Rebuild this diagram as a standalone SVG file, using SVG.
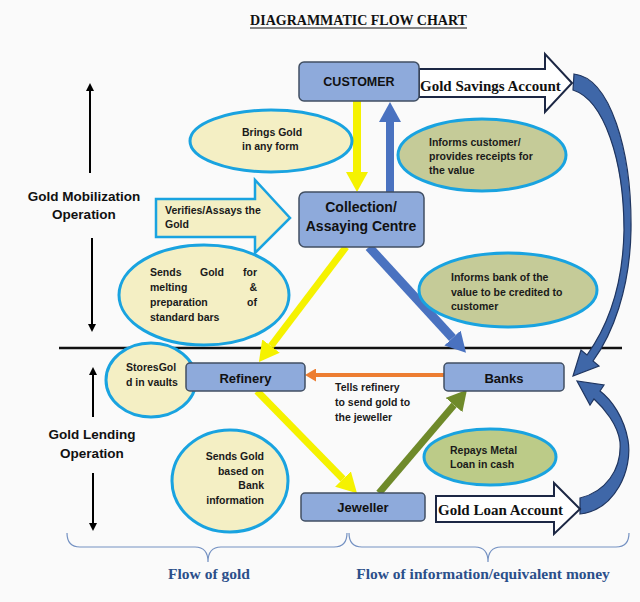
<svg xmlns="http://www.w3.org/2000/svg" width="640" height="602" viewBox="0 0 640 602">
<style>
.box{fill:#8eaadb;stroke:#414f63;stroke-width:1.5}
.bt{font-family:"Liberation Sans",Arial,sans-serif;font-weight:bold;fill:#111;text-anchor:middle}
.ell{stroke:#19a3e0;stroke-width:3}
.ly{fill:#f4efc4}
.lo{fill:#c5cb98}
.et{font-family:"Liberation Sans",Arial,sans-serif;font-weight:bold;font-size:10.5px;fill:#1a1a1a}
.lab{font-family:"Liberation Sans",Arial,sans-serif;font-weight:bold;font-size:13.5px;fill:#111;text-anchor:middle}
.ser{font-family:"Liberation Serif","Times New Roman",serif;font-weight:bold}
.acct{fill:#fff;stroke:#1c2744;stroke-width:2}
.brace{fill:none;stroke:#7491c2;stroke-width:1.2}
.curve{fill:#3f67a8;stroke:#1f3560;stroke-width:1.2}
</style>
<defs>
<marker id="hY" markerUnits="userSpaceOnUse" markerWidth="20" markerHeight="22" viewBox="0 0 20 22" refX="0" refY="11" orient="auto"><path d="M0,0L20,11L0,22Z" fill="#f5f200"/></marker>
<marker id="hB" markerUnits="userSpaceOnUse" markerWidth="20" markerHeight="22" viewBox="0 0 20 22" refX="0" refY="11" orient="auto"><path d="M0,0L20,11L0,22Z" fill="#4a72c0"/></marker>
<marker id="hG" markerUnits="userSpaceOnUse" markerWidth="20" markerHeight="22" viewBox="0 0 20 22" refX="0" refY="11" orient="auto"><path d="M0,0L20,11L0,22Z" fill="#6f8a2a"/></marker>
<marker id="hO" markerUnits="userSpaceOnUse" markerWidth="11" markerHeight="13" viewBox="0 0 11 13" refX="0" refY="6.5" orient="auto"><path d="M0,0L11,6.5L0,13Z" fill="#ed7d31"/></marker>
<marker id="hK" markerUnits="userSpaceOnUse" markerWidth="8" markerHeight="8" viewBox="0 0 8 8" refX="0" refY="4" orient="auto"><path d="M0,0L8,4L0,8Z" fill="#000"/></marker>
</defs>
<rect width="640" height="602" fill="#fafafa"/>

<g id="title">
<text class="ser" x="358.5" y="25" font-size="14" text-anchor="middle" fill="#111">DIAGRAMMATIC FLOW CHART</text>
<line x1="250" y1="28" x2="467" y2="28" stroke="#111" stroke-width="1"/>
</g>

<g id="side-labels">
<line x1="90" y1="173" x2="90" y2="91" stroke="#000" stroke-width="2" marker-end="url(#hK)"/>
<line x1="92" y1="238" x2="92" y2="324" stroke="#000" stroke-width="2" marker-end="url(#hK)"/>
<text class="lab" x="84" y="201">Gold Mobilization</text>
<text class="lab" x="84" y="219">Operation</text>
<line x1="93" y1="417" x2="93" y2="375" stroke="#000" stroke-width="2" marker-end="url(#hK)"/>
<line x1="93" y1="473" x2="93" y2="523" stroke="#000" stroke-width="2" marker-end="url(#hK)"/>
<text class="lab" x="92" y="439">Gold Lending</text>
<text class="lab" x="92" y="458">Operation</text>
<line x1="59" y1="348" x2="622" y2="348" stroke="#111" stroke-width="2.5"/>
</g>

<g id="connectors">
<line x1="357" y1="101" x2="357" y2="172" stroke="#f5f200" stroke-width="8" marker-end="url(#hY)"/>
<line x1="390" y1="192" x2="390" y2="122" stroke="#4a72c0" stroke-width="8" marker-end="url(#hB)"/>
<line x1="346" y1="247" x2="271" y2="346" stroke="#f5f200" stroke-width="7" marker-end="url(#hY)"/>
<line x1="369" y1="247" x2="452.5" y2="338" stroke="#4a72c0" stroke-width="9" marker-end="url(#hB)"/>
<line x1="444" y1="375" x2="316" y2="375" stroke="#ed7d31" stroke-width="4" marker-end="url(#hO)"/>
<line x1="257" y1="391" x2="343" y2="479" stroke="#f5f200" stroke-width="7" marker-end="url(#hY)"/>
<line x1="379" y1="493" x2="454" y2="405" stroke="#6f8a2a" stroke-width="7" marker-end="url(#hG)"/>
<path class="curve" d="M574,74 C610,78 632,150 631,230 C630,290 612,335 593,361 L599,366 L573,376 L581,350 L587,355 C605,330 623,290 624,230 C624,160 604,100 573,90 Z"/>
<path class="curve" d="M580,514 C615,510 633,470 628,440 C624,418 612,400 600,391 L604,385 L577,381 L590,405 L594,399 C604,408 618,425 620,442 C622,470 605,492 580,498 Z"/>
</g>

<g id="gold-savings-account">
<polygon class="acct" points="419,69 545,69 545,54 572,83 545,112 545,97 419,97"/>
<text class="ser" x="420" y="91" font-size="15" fill="#111">Gold Savings Account</text>
</g>

<g id="customer">
<rect class="box" x="299" y="62" width="120" height="39" rx="5"/>
<text class="bt" x="359" y="86" font-size="12.5">CUSTOMER</text>
</g>

<g id="brings-gold">
<ellipse class="ell ly" cx="271" cy="141" rx="81" ry="31"/>
<text class="et" x="242" y="136">Brings Gold</text>
<text class="et" x="242" y="150">in any form</text>
</g>

<g id="informs-customer">
<ellipse class="ell lo" cx="482" cy="155" rx="84" ry="36"/>
<text class="et" x="429" y="146">Informs customer/</text>
<text class="et" x="429" y="160">provides receipts for</text>
<text class="et" x="429" y="174">the value</text>
</g>

<g id="verifies">
<polygon points="156,199 255,199 255,180 290,218 255,253 255,237 156,237" fill="#f4efc4" stroke="#19a3e0" stroke-width="2.5"/>
<text class="et" x="165" y="214">Verifies/Assays the</text>
<text class="et" x="165" y="228">Gold</text>
</g>

<g id="collection">
<rect class="box" x="299" y="192" width="125" height="55" rx="6"/>
<text class="bt" x="361" y="212" font-size="14">Collection/</text>
<text class="bt" x="361" y="231" font-size="14">Assaying Centre</text>
</g>

<g id="sends-gold-melting">
<ellipse class="ell ly" cx="204" cy="295" rx="85" ry="50"/>
<text class="et" x="150" y="276">Sends</text>
<text class="et" x="200" y="276">Gold</text>
<text class="et" x="257" y="276" text-anchor="end">for</text>
<text class="et" x="150" y="291">melting</text>
<text class="et" x="257" y="291" text-anchor="end">&amp;</text>
<text class="et" x="150" y="306">preparation</text>
<text class="et" x="257" y="306" text-anchor="end">of</text>
<text class="et" x="150" y="321">standard bars</text>
</g>

<g id="informs-bank">
<ellipse class="ell lo" cx="508" cy="290" rx="89" ry="37"/>
<text class="et" x="451" y="281">Informs bank of the</text>
<text class="et" x="451" y="296">value to be credited to</text>
<text class="et" x="451" y="310">customer</text>
</g>

<g id="stores-gold">
<ellipse class="ell ly" cx="151" cy="380" rx="45" ry="37"/>
<text class="et" x="126" y="371">StoresGol</text>
<text class="et" x="126" y="386">d in vaults</text>
</g>

<g id="refinery">
<rect class="box" x="186" y="363" width="119" height="28" rx="4"/>
<text class="bt" x="245.5" y="382.5" font-size="13">Refinery</text>
</g>

<g id="banks">
<rect class="box" x="444" y="363" width="120" height="28" rx="4"/>
<text class="bt" x="504" y="382.5" font-size="13">Banks</text>
</g>

<g id="tells-refinery">
<text class="et" x="335" y="391">Tells refinery</text>
<text class="et" x="335" y="406">to send gold to</text>
<text class="et" x="335" y="421">the jeweller</text>
</g>

<g id="sends-gold-bank">
<ellipse class="ell ly" cx="230" cy="481" rx="58" ry="51"/>
<text class="et" x="264" y="460" text-anchor="end">Sends Gold</text>
<text class="et" x="264" y="475" text-anchor="end">based on</text>
<text class="et" x="264" y="489" text-anchor="end">Bank</text>
<text class="et" x="264" y="504" text-anchor="end">information</text>
</g>

<g id="repays">
<ellipse class="ell" cx="490" cy="457" rx="66" ry="28" fill="#bccb88"/>
<text class="et" x="450" y="454">Repays Metal</text>
<text class="et" x="450" y="468">Loan in cash</text>
</g>

<g id="jeweller">
<rect class="box" x="301" y="493" width="124" height="28" rx="4"/>
<text class="bt" x="363" y="512" font-size="13">Jeweller</text>
</g>

<g id="gold-loan-account">
<polygon class="acct" points="436,496 554,496 554,483 580,509 554,534 554,522 436,522" stroke-width="2.5"/>
<text class="ser" x="438" y="515" font-size="15" fill="#111">Gold Loan Account</text>
</g>

<g id="braces">
<path class="brace" d="M67,533 Q67,547 80,547 L195,547 Q208,547 208,562 Q208,547 221,547 L334,547 Q347,547 347,533"/>
<path class="brace" d="M349,533 Q349,547 362,547 L475,547 Q488,547 488,562 Q488,547 501,547 L616,547 Q629,547 629,533"/>
<text class="ser" x="209" y="579" font-size="15.5" text-anchor="middle" fill="#2b4f8a">Flow of gold</text>
<text class="ser" x="483" y="579" font-size="15.5" text-anchor="middle" fill="#2b4f8a">Flow of information/equivalent money</text>
</g>
</svg>
